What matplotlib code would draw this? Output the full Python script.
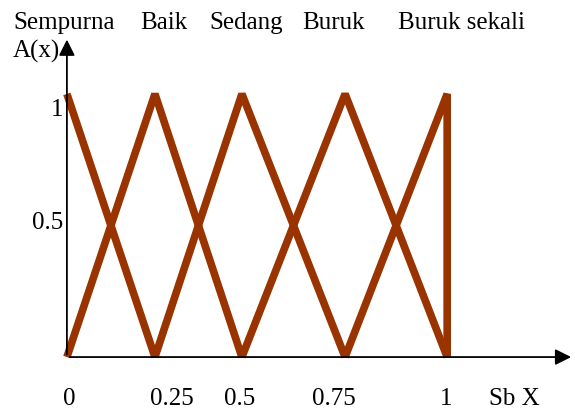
import matplotlib.pyplot as plt

# Peaks of the triangular membership functions (as drawn, slightly uneven)
peaks = [0, 0.25, 0.497, 0.79, 1.08]
names = ['Sempurna', 'Baik', 'Sedang', 'Buruk', 'Buruk sekali']
name_x = [-0.153, 0.207, 0.406, 0.668, 0.940]

x_ticks = ['0', '0.25', '0.5', '0.75', '1']
x_tick_pos = [0.006, 0.298, 0.491, 0.759, 1.077]
y_ticks = ['1', '0.5']
y_tick_pos = [0.939, 0.51]

color = '#993300'
plt.rcParams['font.family'] = ['Liberation Serif', 'DejaVu Serif']

fig = plt.figure(figsize=(5.75, 4.11), dpi=100)
ax = fig.add_axes([0, 0, 1, 1])
ax.set_xlim(-0.190, 1.443)
ax.set_ylim(-0.205, 1.357)
ax.axis('off')

# Axes with arrows
ax.annotate('', xy=(0, 1.217), xytext=(0, 0),
            arrowprops=dict(arrowstyle='-|>', lw=1.3, color='black', mutation_scale=24))
ax.annotate('', xy=(1.44, 0), xytext=(0, 0),
            arrowprops=dict(arrowstyle='-|>', lw=1.3, color='black', mutation_scale=24))

# Membership functions
for i, p in enumerate(peaks):
    xs, ys = [], []
    if i > 0:
        xs.append(peaks[i - 1]); ys.append(0)
    xs.append(p); ys.append(1)
    if i < len(peaks) - 1:
        xs.append(peaks[i + 1]); ys.append(0)
    else:
        xs.append(p); ys.append(0)
    ax.plot(xs, ys, color=color, lw=5.5, solid_joinstyle='bevel',
            solid_capstyle='butt', clip_on=False)

fs = 18
for n, x in zip(names, name_x):
    ax.text(x, 1.245, n, fontsize=fs, ha='left', va='baseline')
ax.text(-0.153, 1.137, 'A(x)', fontsize=fs, ha='left', va='baseline')

for t, x in zip(x_ticks, x_tick_pos):
    ax.text(x, -0.183, t, fontsize=fs, ha='center', va='baseline')
ax.text(1.270, -0.183, 'Sb X', fontsize=fs, ha='center', va='baseline')

for t, y in zip(y_ticks, y_tick_pos):
    ax.text(-0.011, y, t, fontsize=fs, ha='right', va='center')

fig.savefig('out.png', dpi=100)
